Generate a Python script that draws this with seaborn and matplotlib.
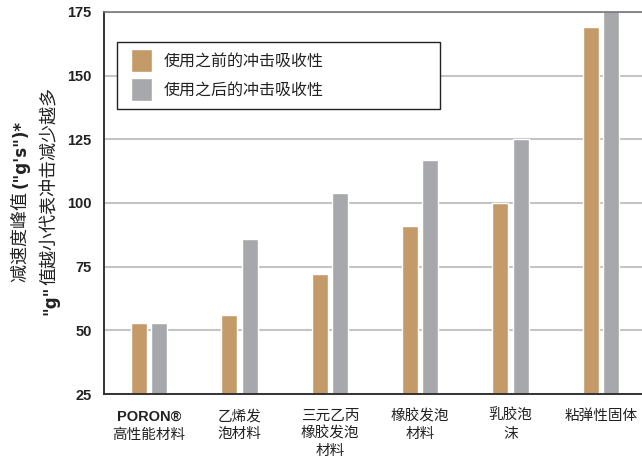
import matplotlib
matplotlib.use("Agg")
import matplotlib.pyplot as plt
from matplotlib.patches import Rectangle
from matplotlib.legend_handler import HandlerPatch
import seaborn as sns
import pandas as pd

categories = ["PORON®\n高性能材料", "乙烯发\n泡材料", "三元乙丙\n橡胶发泡\n材料", "橡胶发泡\n材料", "乳胶泡\n沫", "粘弹性固体"]
series_names = ["使用之前的冲击吸收性", "使用之后的冲击吸收性"]
before_values = [53, 56, 72, 91, 100, 169]
after_values = [53, 86, 104, 117, 125, 176]
y_ticks = [25, 50, 75, 100, 125, 150, 175]
ylabel_line1 = [("减速度峰值 ", False), ("(\"g's\")*", True)]
ylabel_line2 = [("\"g\"", True), ("值越小代表冲击减少越多", False)]

colors = ["#C49A68", "#A7A8AB"]
CJK = ["Noto Sans CJK SC", "DejaVu Sans"]
TXT = "#222222"

sns.set_style("white")
plt.rcParams["font.family"] = CJK

rows = []
for c, b, a in zip(categories, before_values, after_values):
    rows.append({"material": c, "stage": series_names[0], "value": b})
    rows.append({"material": c, "stage": series_names[1], "value": a})
df = pd.DataFrame(rows)

W, H = 642, 457
fig = plt.figure(figsize=(W / 100, H / 100), dpi=100)
ax = fig.add_axes([104 / W, 63 / H, 542 / W, 382 / H])

sns.barplot(data=df, x="material", y="value", hue="stage", order=categories,
            hue_order=series_names, palette=colors, saturation=1,
            width=0.444, gap=0.2, ax=ax, legend=True)

ax.set_ylim(25, 175)
ax.set_xlim(-0.5, 5.5)
ax.set_yticks(y_ticks)
ax.set_yticklabels([str(t) for t in y_ticks], family="Liberation Sans",
                   fontweight="bold", fontsize=10.5, color=TXT)
ax.tick_params(axis="y", length=0, pad=9)
ax.tick_params(axis="x", length=0, pad=11)
ax.set_xlabel("")
ax.set_ylabel("")

LS = 1.3
xt = ["" if i == 0 else c for i, c in enumerate(categories)]
ax.set_xticks(range(len(categories)))
ax.set_xticklabels(xt, fontsize=10.5, color=TXT, linespacing=LS)
first_top, first_bottom = categories[0].split("\n")
ax.annotate(first_top, xy=(0, 0), xycoords=("data", "axes fraction"),
            xytext=(0, -11), textcoords="offset points", ha="center", va="top",
            family="Liberation Sans", fontweight="bold", fontsize=10.5, color=TXT)
ax.annotate(first_bottom, xy=(0, 0), xycoords=("data", "axes fraction"),
            xytext=(0, -11 - 13.2), textcoords="offset points", ha="center", va="top",
            fontsize=10.5, color=TXT)

ax.yaxis.grid(True, color="#c4c4c4", lw=1.5)
ax.set_axisbelow(True)
for s in ["left", "bottom"]:
    ax.spines[s].set_color("#333333")
    ax.spines[s].set_linewidth(1.4)
ax.spines["top"].set_color("#777777")
ax.spines["top"].set_linewidth(1.2)
ax.spines["right"].set_visible(False)


def shifted_patch(legend, orig_handle, xdescent, ydescent, width, height, fontsize):
    return Rectangle((-xdescent + 5, -ydescent), width - 5, height)


handles, labels = ax.get_legend_handles_labels()
leg = ax.legend(handles, labels, loc="upper left",
                bbox_to_anchor=(13 / 542, (394 - 110) / 382, 323 / 542, 68 / 382),
                mode="expand", frameon=True, fancybox=False, framealpha=1,
                edgecolor=TXT, fontsize=11.5, handlelength=1.75,
                handleheight=1.85, labelspacing=0.375, handletextpad=0.75,
                borderpad=0.45, borderaxespad=0,
                handler_map={Rectangle: HandlerPatch(patch_func=shifted_patch)})
leg.get_frame().set_linewidth(1.0)
for t in leg.get_texts():
    t.set_color(TXT)


def vertical_label(x_pix, yc_pix, pieces, size):
    renderer = fig.canvas.get_renderer()
    texts = []
    for s, bold in pieces:
        if bold:
            t = fig.text(0, 0, s, rotation=90, ha="center", va="bottom", fontsize=size - 1,
                         family="DejaVu Sans", fontweight="bold", color=TXT)
        else:
            t = fig.text(0, 0, s, rotation=90, ha="center", va="bottom", fontsize=size,
                         color=TXT)
        texts.append(t)
    heights = [t.get_window_extent(renderer).height for t in texts]
    y = yc_pix - sum(heights) / 2
    for t, h in zip(texts, heights):
        t.set_position((x_pix / W, y / H))
        y += h


vertical_label(21, H - 201, ylabel_line1, 13)
vertical_label(50, H - 201, ylabel_line2, 13)

fig.savefig("out.png", dpi=100)
